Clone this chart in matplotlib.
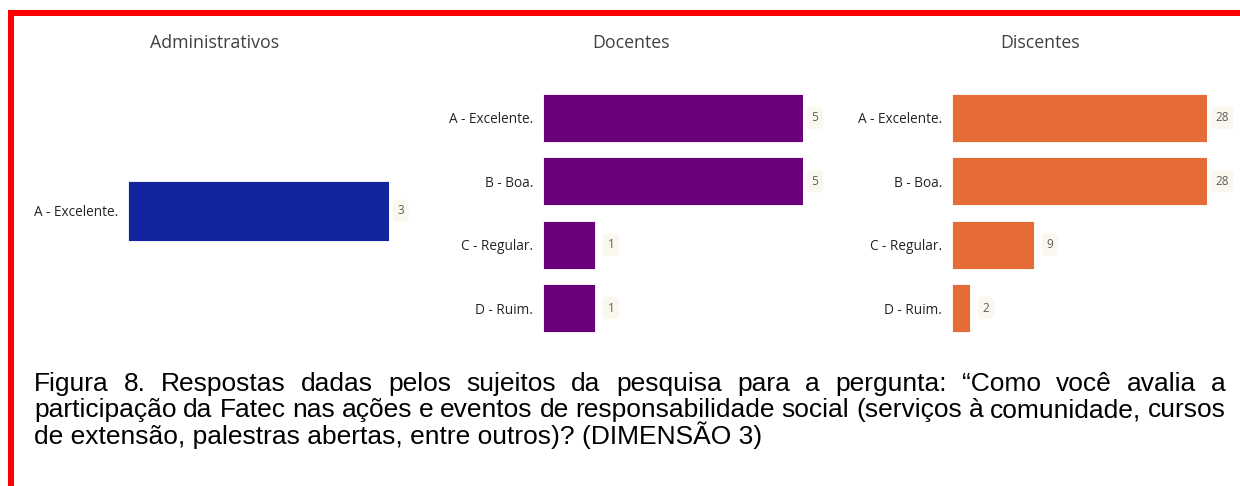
import matplotlib
matplotlib.use("Agg")
import matplotlib.pyplot as plt
from matplotlib.patches import Rectangle

# --- DATA ---
panel_titles = ["Administrativos", "Docentes", "Discentes"]
admin_cats = ["A - Excelente."]
admin_vals = [3]
doc_cats = ["A - Excelente.", "B - Boa.", "C - Regular.", "D - Ruim."]
doc_vals = [5, 5, 1, 1]
disc_cats = ["A - Excelente.", "B - Boa.", "C - Regular.", "D - Ruim."]
disc_vals = [28, 28, 9, 2]

caption_lines = [
    "Figura 8. Respostas dadas pelos sujeitos da pesquisa para a pergunta: \u201cComo você avalia a",
    "participação da Fatec nas ações e eventos de responsabilidade social (serviços à comunidade, cursos",
    "de extensão, palestras abertas, entre outros)? (DIMENSÃO 3)",
]

W, H = 1240, 486
UI_FONT = ["Open Sans", "DejaVu Sans"]

fig = plt.figure(figsize=(W / 100, H / 100), dpi=100)
fig.patch.set_facecolor("white")


def px_axes(x0, y0, x1, y1):
    # pixel box (top-left origin) -> figure axes
    return fig.add_axes([x0 / W, 1 - y1 / H, (x1 - x0) / W, (y1 - y0) / H])


def bar_panel(ax, cats, vals, color, xmax):
    n = len(cats)
    ypos = list(range(n))
    ax.barh(ypos, vals, height=0.76, color=color, edgecolor="#ffffff", linewidth=0.6)
    ax.set_xlim(0, xmax)
    ax.set_ylim(n - 0.5, -0.5)
    ax.set_yticks(ypos)
    ax.set_yticklabels(cats, fontsize=9.8, color="#252423", family=UI_FONT)
    ax.tick_params(axis="y", length=0, pad=7)
    ax.set_xticks([])
    for s in ax.spines.values():
        s.set_visible(False)
    ax.patch.set_alpha(0)
    for y, v in zip(ypos, vals):
        ax.annotate(str(v), xy=(v, y), xytext=(9 if v < xmax else 6, 0),
                    textcoords="offset points", va="center", ha="left",
                    fontsize=8.5, color="#605E5C", family=UI_FONT, annotation_clip=False,
                    bbox=dict(boxstyle="round,pad=0.4", fc="#FAF8EE", ec="none"))


# Administrativos
ax1 = px_axes(128, 171.5, 389, 250.5)
bar_panel(ax1, admin_cats, admin_vals, "#12239E", 3)
# Docentes
ax2 = px_axes(543, 86.3, 803, 339.7)
bar_panel(ax2, doc_cats, doc_vals, "#6B007B", 5)
# Discentes
ax3 = px_axes(952, 86.3, 1207, 339.7)
bar_panel(ax3, disc_cats, disc_vals, "#E66C37", 28)

for t, x in zip(panel_titles, [215, 631, 1040]):
    fig.text(x / W, 1 - 43 / H, t, ha="center", va="center", fontsize=12.8,
             color="#404040", family=UI_FONT)

# red frame
fig.patches.append(Rectangle((8 / W, 1 - 16 / H), (W - 8) / W, 6 / H,
                             transform=fig.transFigure, color="#FF0000", lw=0))
fig.patches.append(Rectangle((8 / W, 0), 6 / W, 1 - 10 / H,
                             transform=fig.transFigure, color="#FF0000", lw=0))

# caption with justified first two lines (baseline aligned)
renderer = fig.canvas.get_renderer()
cap_left, cap_right = 34, 1226
line_base = [391, 417, 444]
cap_kw = dict(fontsize=19, family=["Liberation Sans", "DejaVu Sans"], color="black",
              va="baseline")
for i, line in enumerate(caption_lines):
    y = 1 - line_base[i] / H
    if i == len(caption_lines) - 1:
        fig.text(cap_left / W, y, line, ha="left", **cap_kw)
        continue
    words = line.split(" ")
    texts = [fig.text(0, y, w, ha="left", **cap_kw) for w in words]
    widths = [t.get_window_extent(renderer).width for t in texts]
    gap = (cap_right - cap_left - sum(widths)) / (len(words) - 1)
    x = cap_left
    for t, w in zip(texts, widths):
        t.set_x(x / W)
        x += w + gap

fig.savefig("out.png", dpi=100, facecolor="white")
